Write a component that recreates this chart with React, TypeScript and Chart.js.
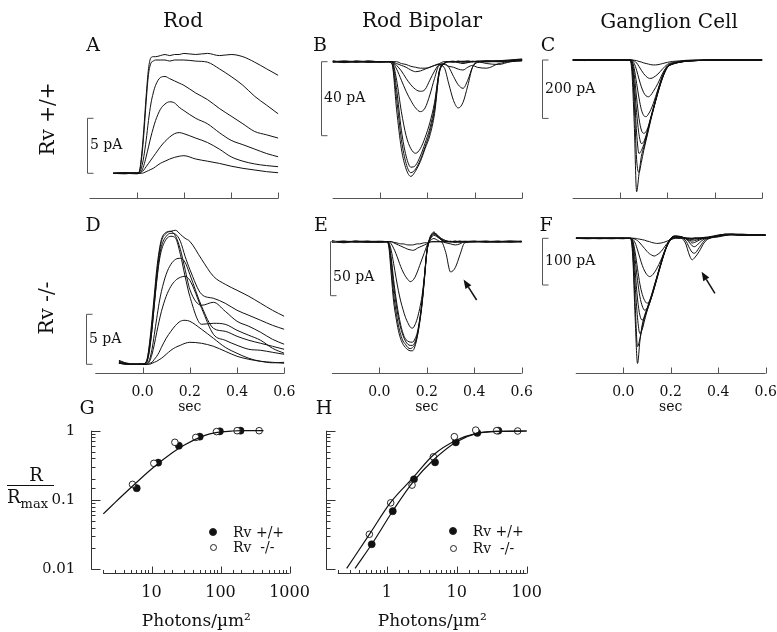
import React, { useEffect, useRef } from 'react';
import { Chart, registerables } from 'chart.js';
Chart.register(...registerables);

const W = 777;
const H = 632;
const FONT = '"DejaVu Serif", serif';

// ---------- DATA ----------
const timeTicks = [0, 0.2, 0.4, 0.6];

// Rod (A: Rv+/+, D: Rv-/-), pA, outward positive
const rodTime = [-0.1, -0.05, 0, 0.01, 0.02, 0.03, 0.04, 0.05, 0.06, 0.07, 0.08, 0.1, 0.12, 0.14, 0.16, 0.18, 0.2, 0.25, 0.3, 0.35, 0.4, 0.45, 0.5, 0.55, 0.6];
const rodWT1 = [0, 0.05, 0, 0.1, 1.5, 4, 7, 9.5, 10.5, 10.6, 10.6, 10.7, 10.8, 10.7, 10.8, 10.8, 10.9, 10.8, 10.9, 10.7, 10.8, 10.6, 10.1, 9.5, 8.9];
const rodWT2 = [0, -0.05, 0.05, 0.1, 1.2, 3.5, 6.5, 9, 10, 10.2, 10.3, 10.3, 10.3, 10.2, 10.3, 10.3, 10.3, 10.2, 10.1, 9.5, 8.8, 8.0, 7.0, 6.2, 5.4];
const rodWT3 = [0, 0, -0.05, 0.05, 0.5, 1.5, 3, 4.8, 6.3, 7.3, 8, 8.7, 8.8, 8.6, 8.4, 8.2, 8.0, 7.3, 6.7, 5.9, 5.2, 4.5, 3.8, 3.5, 3.2];
const rodWT4 = [0, 0.05, 0, 0, 0.2, 0.7, 1.5, 2.4, 3.3, 4.1, 4.8, 5.8, 6.3, 6.5, 6.4, 6.0, 5.7, 5.0, 4.5, 3.7, 3.0, 2.6, 2.2, 1.8, 1.5];
const rodWT5 = [0, 0, 0.05, 0, 0.1, 0.3, 0.6, 0.9, 1.2, 1.5, 1.8, 2.4, 2.9, 3.3, 3.6, 3.7, 3.6, 3.2, 2.8, 2.2, 1.5, 1.1, 0.85, 0.7, 0.6];
const rodWT6 = [0, 0.05, 0, 0, 0, 0.05, 0.15, 0.25, 0.35, 0.45, 0.6, 0.9, 1.1, 1.3, 1.45, 1.55, 1.6, 1.3, 1.1, 0.9, 0.65, 0.45, 0.3, 0.15, 0.05];

const rodKO1 = [0.4, 0, 0, 0.1, 0.5, 2, 4, 6.5, 9, 11, 12.3, 13.1, 13.3, 13.4, 13.0, 12.6, 12.3, 10.5, 8.8, 8.0, 7.4, 6.8, 6.1, 5.4, 4.8];
const rodKO2 = [0.3, 0.05, 0, 0.1, 0.4, 1.6, 3.5, 6, 8.5, 10.5, 11.8, 12.8, 13.1, 13.0, 12.3, 10.8, 9.5, 7.0, 6.6, 6.1, 5.4, 4.9, 4.4, 3.9, 3.5];
const rodKO3 = [0.2, 0, 0.05, 0.1, 0.6, 2.2, 4.5, 7, 9.5, 11.3, 12.5, 13.2, 13.3, 12.8, 11.5, 9.5, 7.5, 5.9, 6.2, 5.3, 4.3, 3.8, 3.2, 2.5, 2.0];
const rodKO4 = [0.2, 0, 0, 0.05, 0.3, 1.5, 3.5, 6, 8.3, 10.2, 11.4, 12.5, 12.8, 12.6, 11.0, 8.8, 6.8, 4.0, 4.1, 4.0, 3.4, 2.9, 2.4, 1.6, 1.1];
const rodKO5 = [0.1, 0, 0, 0, 0.1, 0.5, 1.5, 3, 4.6, 6.1, 7.3, 9, 10, 10.5, 10.6, 10.2, 9.0, 5.8, 3.6, 3.3, 2.8, 2.4, 2.1, 1.8, 1.5];
const rodKO6 = [0.1, 0, 0.05, 0, 0.05, 0.3, 1, 2, 3.2, 4.3, 5.3, 6.8, 7.8, 8.4, 8.7, 8.8, 8.4, 5.6, 3.0, 2.4, 1.9, 1.5, 1.4, 1.2, 1.0];
const rodKO7 = [0.1, 0, 0, 0, 0, 0.1, 0.2, 0.5, 0.8, 1.2, 1.7, 2.6, 3.3, 3.9, 4.3, 4.4, 4.3, 3.5, 2.6, 1.7, 1.1, 0.6, 0.3, 0.2, 0.1];
const rodKO8 = [0.1, 0, 0, 0, 0, 0, 0.1, 0.2, 0.3, 0.45, 0.6, 1.0, 1.4, 1.7, 1.9, 2.1, 2.2, 2.1, 1.8, 1.3, 0.8, 0.5, 0.3, 0.15, 0.2];

// Rod bipolar Rv+/+ (B), pA
const bipTime = [-0.2, -0.15, -0.1, -0.05, 0, 0.03, 0.05, 0.07, 0.09, 0.11, 0.13, 0.15, 0.17, 0.19, 0.21, 0.23, 0.25, 0.27, 0.29, 0.31, 0.33, 0.35, 0.37, 0.39, 0.41, 0.45, 0.5, 0.55, 0.6];
const bipWT1 = [0.5, -0.5, 0.3, -0.3, 0, 0, -1, -26, -47, -58, -62, -59, -54, -47, -40, -28, -6, -1, 0, 0.3, -0.3, 0, 0.5, 0, 0.3, 0, 0.5, 1, 1.5];
const bipWT2 = [-0.3, 0.4, -0.2, 0.3, 0, 0, -1, -20, -42, -55, -60, -58, -53, -46, -38, -26, -6, -1, 0, -0.3, 0.3, 0, -0.3, 0.3, 0, 0.5, 0, 0.8, 1];
const bipWT3 = [0, -0.3, 0.3, 0, -0.3, 0, 0, -15, -37, -51, -57, -56, -51, -44, -36, -24, -5, -1, 0, 0, 0.3, -0.3, 0, 0, 0.3, 0.5, 0.3, 0.5, 1.2];
const bipWT4 = [0.3, 0, -0.3, 0.3, 0, 0, 0, -10, -27, -40, -47, -49.5, -47, -41, -33, -22, -5, -1, 0, 0, 0, 0.3, 0, 0, 0, 0.3, 0.5, 0.5, 1];
const bipWT5 = [0, 0.3, 0, -0.3, 0, 0, 0, -4, -10, -16, -21, -25, -27, -25, -18, -9, -2, -3, -12, -21, -25, -22, -13, -3, 0, 0, 0.3, 0.5, 1];
const bipWT6 = [0, 0, 0.3, 0, 0, 0, 0, -2, -5, -9, -12.5, -15, -16, -15, -10, -5, -1.5, -1, -3, -8, -12.5, -14.4, -10, -3, -0.5, 0, 0, 0.5, 0.8];
const bipWT7 = [0, 0, 0, 0.3, 0, 0, 0, -1, -2, -3, -4.5, -5.4, -5, -4, -3, -2, -1.5, -1.5, -2.5, -3, -4, -4.5, -3, -2, -3, -3.5, -1, 0, 0.5];
const bipWT8 = [0, 0, 0, 0, 0, 0, 0, 0, -1, -1.5, -2.5, -3, -3.5, -3.5, -3, -2, -1, 0, 0, 0, -0.5, -1, -0.5, 0, 0, -1, -1.5, 0, 0.5];

// Ganglion cell Rv+/+ (C), pA
const ganTime = [-0.2, -0.15, -0.1, -0.05, 0, 0.02, 0.04, 0.05, 0.06, 0.07, 0.08, 0.09, 0.1, 0.11, 0.12, 0.13, 0.14, 0.16, 0.18, 0.2, 0.22, 0.25, 0.28, 0.32, 0.36, 0.4, 0.45, 0.5, 0.55, 0.6];
const ganWT1 = [2, -2, 1, -1, 0, 0, 0, -40, -220, -451, -390, -330, -300, -270, -235, -200, -170, -110, -60, -25, -14, -8, -4, -2, -1, 0, 1, 0, 1, 0];
const ganWT2 = [-1, 1, 0, 1, -1, 0, 0, -20, -150, -340, -385, -350, -310, -275, -240, -205, -172, -112, -60, -25, -15, -8, -4, -2, -1, 0, 0, 1, 0, 1];
const ganWT3 = [0, 1, -1, 0, 1, 0, 0, -15, -110, -250, -320, -310, -290, -262, -232, -200, -170, -110, -58, -24, -14, -8, -4, -2, -1, 0, 0, 0, 1, 0];
const ganWT4 = [1, 0, 0, -1, 0, 0, 0, -10, -80, -180, -255, -286, -280, -258, -230, -198, -168, -108, -56, -23, -14, -7, -4, -2, -1, 0, 1, 0, 0, 1];
const ganWT5 = [0, -1, 1, 0, 0, 0, 0, -5, -50, -130, -200, -240, -251, -245, -225, -195, -165, -105, -55, -22, -13, -7, -4, -2, -1, 0, 0, 1, 0, 0];
const ganWT6 = [-1, 0, 0, 1, 0, 0, 0, -3, -30, -80, -130, -170, -190, -194, -185, -170, -150, -100, -52, -22, -13, -7, -3, -2, -1, 0, 0, 0, 1, 0];
const ganWT7 = [0, 1, 0, 0, -1, 0, 0, -1, -12, -35, -65, -92, -112, -123, -126, -120, -108, -80, -45, -20, -12, -6, -3, -1, 0, 0, 1, 0, 0, 0];
const ganWT8 = [1, 0, -1, 0, 0, 0, 0, 0, -3, -10, -22, -35, -47, -56, -62, -63, -60, -48, -30, -15, -9, -5, -2, -1, 0, 0, 0, 0, 1, 0];
const ganWT9 = [0, 0, 1, 0, 0, 0, 0, 0, -1, -2, -5, -7, -10, -12, -14, -16, -17, -16, -12, -8, -5, -3, -1, 0, 0, 0, 0, 1, 0, 0];

// Rod bipolar Rv-/- (E), pA
const bipKOTime = [-0.2, -0.15, -0.1, -0.05, 0, 0.03, 0.04, 0.05, 0.06, 0.07, 0.08, 0.09, 0.1, 0.11, 0.12, 0.13, 0.14, 0.15, 0.16, 0.17, 0.18, 0.19, 0.2, 0.21, 0.22, 0.23, 0.24, 0.26, 0.28, 0.3, 0.32, 0.34, 0.36, 0.4, 0.45, 0.5, 0.55, 0.6];
const bipKO1 = [1, -1, 0.5, -0.5, 0, 0, -5, -30, -55, -70, -82, -90, -95, -98, -100, -101, -101, -97, -88, -75, -58, -35, -10, 2, 7, 9, 7, 3, 1, 0, 0.5, -0.5, 0, 0.5, -0.5, 0, 0.5, 0];
const bipKO2 = [-0.5, 0.5, 0, 0.5, -0.5, 0, -3, -24, -48, -64, -77, -86, -92, -95, -98, -99, -98, -95, -87, -74, -57, -34, -10, 1, 6, 8, 7, 3, 1, 0, 0, 0.5, -0.5, 0, 0.5, -0.5, 0, 0.5];
const bipKO3 = [0, 0.5, -0.5, 0, 0.5, 0, -2, -18, -40, -57, -70, -80, -87, -92, -95, -96, -96, -93, -86, -73, -56, -33, -9, 1, 6, 8, 6, 2, 0, 0.5, -0.5, 0, 0.5, 0, 0, 0.5, -0.5, 0];
const bipKO4 = [0.5, 0, 0, -0.5, 0, 0, -2, -15, -35, -52, -66, -77, -85, -90, -92, -93, -93, -90, -84, -72, -55, -32, -9, 1, 5, 7, 6, 2, 0, 0, 0.5, 0, 0, 0.5, 0, 0, 0.5, 0];
const bipKO5 = [0, -0.5, 0.5, 0, 0, 0, -1, -8, -20, -33, -45, -55, -63, -70, -75, -79, -80, -77, -71, -62, -50, -32, -10, 0, 4, 6, 5, 2, 0, 0, 0, 0.5, 0, 0, 0.5, 0, 0, 0.5];
const bipKO6 = [0, 0, 0.5, 0, -0.5, 0, 0, -2, -6, -11, -17, -23, -28, -32, -35, -37, -36, -33, -28, -22, -16, -10, -4, 0, 2, 3, 2, 0, 0, 0, -0.5, 0, 0, 0, 0, 0.5, 0, 0];
const bipKO7 = [0, 0, 0, 0.5, 0, 0, 0, 0, -1, -2, -3, -4, -5, -6, -7, -7.5, -8, -7.5, -6, -5, -4, -3, -2, -1, 0, 0, 0, 0, -1, -2, -3, -2, 0, 0, 0, 0, 0.5, 0];
const bipKO8 = [0, 0, 0, 0, 0, 0, 0, 0, -0.5, -1, -1.5, -2, -2, -2.5, -3, -3, -3, -2.5, -2, -2, -1.5, -1, -1, -0.5, 0, 0, 0, 0, -10, -28, -24, -12, -1, 0, 0, 0, 0, 0];

// Ganglion cell Rv-/- (F), pA
const ganKOTime = [-0.2, -0.15, -0.1, -0.05, 0, 0.02, 0.03, 0.04, 0.05, 0.06, 0.07, 0.08, 0.09, 0.1, 0.11, 0.12, 0.13, 0.14, 0.16, 0.18, 0.2, 0.22, 0.24, 0.26, 0.28, 0.29, 0.3, 0.32, 0.34, 0.36, 0.4, 0.43, 0.46, 0.5, 0.55, 0.6];
const ganKO1 = [0, 0, 0, 0, 0, 0, 0, -40, -170, -268, -220, -185, -165, -150, -135, -120, -102, -85, -50, -20, 0, 5, 4, 1, 0, 0, 0, 0, 1, 2, 6, 9, 8, 7, 7, 6];
const ganKO2 = [0, 1, 0, -1, 0, 0, 0, -30, -140, -232, -215, -190, -168, -152, -137, -121, -104, -86, -51, -20, 0, 5, 3, 1, 0, 0, 1, 0, 2, 3, 7, 8, 9, 6, 8, 7];
const ganKO3 = [1, 0, 0, 0, -1, 0, 0, -20, -100, -170, -204, -195, -175, -156, -140, -123, -105, -87, -52, -21, 0, 4, 4, 0, 0, -1, 0, 1, 1, 2, 5, 8, 9, 8, 6, 7];
const ganKO4 = [0, 0, 1, 0, 0, 0, 0, -12, -70, -130, -165, -175, -168, -155, -140, -124, -106, -88, -52, -21, -1, 4, 3, 0, -2, -3, -2, 0, 1, 2, 6, 7, 8, 9, 7, 6];
const ganKO5 = [0, -1, 0, 0, 1, 0, 0, -8, -45, -90, -125, -145, -154, -150, -140, -125, -107, -89, -53, -22, -2, 3, 3, 0, -4, -6, -5, -2, 0, 2, 5, 8, 7, 8, 7, 7];
const ganKO6 = [0, 0, 0, 1, 0, 0, 0, -5, -30, -65, -98, -120, -133, -139, -135, -124, -108, -90, -54, -22, -2, 3, 2, 0, -6, -10, -9, -4, 0, 1, 6, 9, 8, 6, 7, 8];
const ganKO7 = [1, 0, 0, 0, 0, 0, 0, -2, -10, -25, -42, -58, -70, -78, -82, -80, -74, -66, -45, -20, -3, 2, 2, 0, -10, -16, -18, -10, -2, 0, 5, 7, 9, 7, 6, 7];
const ganKO8 = [0, 0, -1, 0, 0, 0, 0, 0, -2, -5, -10, -16, -22, -28, -33, -36, -38, -36, -28, -14, -3, 1, 0, -3, -22, -30, -32, -20, -6, 0, 4, 7, 8, 7, 8, 6];
const ganKO9 = [0, 0, 0, 0, 0, 0, 0, 0, 0, -1, -2, -3, -4, -6, -7, -9, -10, -11, -10, -7, -3, 0, 0, -8, -38, -46, -42, -28, -10, -1, 3, 6, 8, 7, 7, 6];

// Arrows (tail t, tail pA, head t, head pA)
const arrowE = [0.41, -54, 0.355, -35];
const arrowF = [0.386, -118, 0.33, -71.5];

// Intensity-response (G: rod, H: rod bipolar)
const gWTx = [6.1, 12.5, 24.9, 50, 98, 195];
const gWTy = [0.148, 0.346, 0.608, 0.82, 0.98, 1.0];
const gKOx = [5.3, 10.8, 21.8, 43.8, 87.5, 174, 363];
const gKOy = [0.168, 0.338, 0.68, 0.8, 0.97, 1.0, 1.0];
const gFitX = [2, 3, 5, 10, 20, 30, 50, 70, 100, 150, 200, 420];
const gFitY = [0.063, 0.093, 0.15, 0.28, 0.48, 0.62, 0.8, 0.9, 0.96, 0.99, 1.0, 1.0];

const hWTx = [0.61, 1.22, 2.45, 4.9, 9.7, 19.7, 39.4];
const hWTy = [0.023, 0.069, 0.199, 0.35, 0.68, 0.93, 1.0];
const hKOx = [0.565, 1.14, 2.3, 4.64, 9.25, 18.7, 37.2, 74.3];
const hKOy = [0.032, 0.091, 0.164, 0.42, 0.82, 1.02, 1.0, 0.99];
const hFitKOx = [0.268, 0.578, 1.11, 2.4, 4.64, 10, 19.3, 40, 100];
const hFitKOy = [0.0103, 0.033, 0.0895, 0.212, 0.446, 0.734, 0.916, 0.98, 0.99];
const hFitWTx = [0.353, 0.645, 1.245, 2.4, 4.64, 10, 19.3, 40, 100];
const hFitWTy = [0.0103, 0.025, 0.0718, 0.184, 0.378, 0.695, 0.916, 0.98, 0.99];

// ---------- PLUGINS ----------
const AXIS_COLOR = '#555';

const traceDecor = {
  id: 'traceDecor',
  afterDraw(chart: any, _args: any, o: any) {
    const { ctx, chartArea: a, scales } = chart;
    const x = scales.x, y = scales.y;
    ctx.save();
    ctx.strokeStyle = AXIS_COLOR;
    ctx.lineWidth = 1;
    ctx.beginPath();
    const ay = Math.round(a.bottom) - 0.5;
    ctx.moveTo(a.left, ay);
    ctx.lineTo(a.right, ay);
    for (const t of o.ticks) {
      const px = Math.round(x.getPixelForValue(t)) + 0.5;
      ctx.moveTo(px, ay);
      ctx.lineTo(px, ay - 6);
    }
    ctx.stroke();
    // scale bar
    const bx = Math.round(x.getPixelForValue(o.barT)) + 0.5;
    const y0 = y.getPixelForValue(0);
    const y1 = y.getPixelForValue(o.barV);
    ctx.beginPath();
    ctx.moveTo(bx + 6, y0);
    ctx.lineTo(bx, y0);
    ctx.lineTo(bx, y1);
    ctx.lineTo(bx + 6, y1);
    ctx.stroke();
    ctx.fillStyle = '#111';
    ctx.font = '14px ' + FONT;
    ctx.textBaseline = 'middle';
    ctx.textAlign = 'left';
    ctx.fillText(o.barLabel, bx + 2.5, (y0 + y1) / 2 + (o.labelDy || 0));
    // arrow
    if (o.arrow) {
      const [t1, v1, t2, v2] = o.arrow;
      const x1 = x.getPixelForValue(t1), yy1 = y.getPixelForValue(v1);
      const x2 = x.getPixelForValue(t2), yy2 = y.getPixelForValue(v2);
      const ang = Math.atan2(yy2 - yy1, x2 - x1);
      const L = 9, hw = 3.5;
      const bxh = x2 - L * Math.cos(ang), byh = yy2 - L * Math.sin(ang);
      ctx.strokeStyle = '#111';
      ctx.lineWidth = 1.5;
      ctx.beginPath();
      ctx.moveTo(x1, yy1);
      ctx.lineTo(bxh, byh);
      ctx.stroke();
      ctx.beginPath();
      ctx.moveTo(x2, yy2);
      ctx.lineTo(bxh + hw * Math.sin(ang), byh - hw * Math.cos(ang));
      ctx.lineTo(bxh - hw * Math.sin(ang), byh + hw * Math.cos(ang));
      ctx.closePath();
      ctx.fill();
    }
    ctx.restore();
  },
};

const isMajor = (v: number) => {
  const l = Math.log10(v);
  return Math.abs(l - Math.round(l)) < 1e-6;
};

const logDecor = {
  id: 'logDecor',
  afterDraw(chart: any) {
    const { ctx, chartArea: a, scales } = chart;
    const x = scales.x, y = scales.y;
    ctx.save();
    ctx.strokeStyle = '#333';
    ctx.lineWidth = 1;
    ctx.beginPath();
    const yx = Math.round(a.left - 12) + 0.5;
    ctx.moveTo(yx, y.getPixelForValue(1));
    ctx.lineTo(yx, y.getPixelForValue(0.01) + 0.5);
    for (const t of y.ticks) {
      const py = Math.round(y.getPixelForValue(t.value)) + 0.5;
      ctx.moveTo(yx, py);
      ctx.lineTo(yx + (isMajor(t.value) ? 9 : 4), py);
    }
    const xy = Math.round(a.bottom + 3.5) + 0.5;
    ctx.moveTo(a.left, xy);
    ctx.lineTo(a.right, xy);
    for (const t of x.ticks) {
      const px = Math.round(x.getPixelForValue(t.value)) + 0.5;
      ctx.moveTo(px, xy);
      ctx.lineTo(px, xy - (isMajor(t.value) ? 7 : 3.5));
    }
    ctx.stroke();
    ctx.restore();
  },
};

// ---------- CONFIG BUILDERS ----------
type Geo = { left: number; right: number; top: number; bottom: number; base: number; k: number };

function traceChart(time: number[], traces: number[][], g: Geo, deco: any, showAxis: boolean) {
  const xh = showAxis ? 42 : 0;
  return {
    type: 'line',
    data: {
      datasets: traces.map((v) => ({
        data: time.map((t, i) => ({ x: t, y: v[i] })),
        borderColor: '#111',
        borderWidth: 1,
        pointRadius: 0,
        fill: false,
        cubicInterpolationMode: 'monotone',
      })),
    },
    options: {
      responsive: false,
      animation: false,
      devicePixelRatio: 1,
      events: [],
      layout: { padding: { left: g.left, right: W - g.right, top: g.top, bottom: H - g.bottom - xh } },
      plugins: { legend: { display: false }, tooltip: { enabled: false }, traceDecor: { ticks: timeTicks, ...deco } },
      scales: {
        x: {
          type: 'linear',
          min: -0.2,
          max: 0.6,
          display: showAxis,
          grid: { display: false },
          border: { display: false },
          afterBuildTicks: (s: any) => {
            s.ticks = timeTicks.map((v) => ({ value: v }));
          },
          afterFit: (s: any) => {
            s.height = xh;
            s.paddingLeft = 0;
            s.paddingRight = 0;
          },
          ticks: {
            autoSkip: false,
            maxRotation: 0,
            padding: 2,
            color: '#111',
            font: { family: FONT, size: 14 },
            callback: (v: any) => Number(v).toFixed(1),
          },
          title: { display: true, text: 'sec', color: '#111', font: { family: FONT, size: 14 }, padding: { top: 0, bottom: 0 } },
        },
        y: { type: 'linear', display: false, min: -(g.bottom - g.base) / g.k, max: (g.base - g.top) / g.k },
      },
    },
    plugins: [traceDecor],
  };
}

const LOG_TOP = 430.7;
const LOG_BOTTOM = 569.3;

function logChart(opts: {
  xMin: number; xMax: number; left: number; right: number; showY: boolean;
  fits: [number[], number[]][]; wt: [number[], number[]]; ko: [number[], number[]];
}) {
  const yw = opts.showY ? 60 : 0;
  const pts = (xs: number[], ys: number[]) => xs.map((v, i) => ({ x: v, y: ys[i] }));
  return {
    type: 'line',
    data: {
      datasets: [
        ...opts.fits.map(([xs, ys]) => ({
          data: pts(xs, ys), borderColor: '#111', borderWidth: 1.2, pointRadius: 0, fill: false,
          cubicInterpolationMode: 'monotone', clip: false,
        })),
        {
          data: pts(opts.ko[0], opts.ko[1]), showLine: false, pointRadius: 3.3, pointBackgroundColor: '#fff',
          pointBorderColor: '#111', pointBorderWidth: 0.9, clip: false,
        },
        {
          data: pts(opts.wt[0], opts.wt[1]), showLine: false, pointRadius: 3.6, pointBackgroundColor: '#111',
          pointBorderColor: '#111', pointBorderWidth: 0.5, clip: false,
        },
      ],
    },
    options: {
      responsive: false,
      animation: false,
      devicePixelRatio: 1,
      events: [],
      layout: { padding: { left: opts.left - yw, right: W - opts.right, top: LOG_TOP, bottom: 0 } },
      plugins: { legend: { display: false }, tooltip: { enabled: false } },
      scales: {
        x: {
          type: 'logarithmic',
          min: opts.xMin,
          max: opts.xMax,
          grid: { display: false },
          border: { display: false },
          afterFit: (s: any) => {
            s.height = H - LOG_BOTTOM;
            s.paddingLeft = 0;
            s.paddingRight = 0;
          },
          ticks: {
            autoSkip: false,
            maxRotation: 0,
            padding: 6,
            color: '#111',
            font: { family: FONT, size: 16 },
            callback: (v: any) => (isMajor(Number(v)) ? String(Number(v)) : ''),
          },
          title: { display: true, text: 'Photons/\u00b5m\u00b2', color: '#111', font: { family: FONT, size: 17 }, padding: { top: 0, bottom: 0 } },
        },
        y: {
          type: 'logarithmic',
          min: 0.01,
          max: 1,
          position: 'left',
          grid: { display: false },
          border: { display: false },
          afterFit: (s: any) => {
            s.width = yw;
          },
          ticks: {
            display: opts.showY,
            autoSkip: false,
            padding: 20,
            color: '#111',
            font: { family: FONT, size: 15 },
            callback: (v: any) => (isMajor(Number(v)) ? String(Number(v)) : ''),
          },
        },
      },
    },
    plugins: [logDecor],
  };
}

const configs: (() => any)[] = [
  () => traceChart(rodTime, [rodWT1, rodWT2, rodWT3, rodWT4, rodWT5, rodWT6],
    { left: 89.5, right: 278.3, top: 40, bottom: 199, base: 173.3, k: 11 },
    { barT: -0.212, barV: 5, barLabel: '5 pA' }, false),
  () => traceChart(bipTime, [bipWT1, bipWT2, bipWT3, bipWT4, bipWT5, bipWT6, bipWT7, bipWT8],
    { left: 332.6, right: 522.3, top: 45, bottom: 199, base: 61.7, k: 1.85 },
    { barT: -0.25, barV: -40, barLabel: '40 pA' }, false),
  () => traceChart(ganTime, [ganWT1, ganWT2, ganWT3, ganWT4, ganWT5, ganWT6, ganWT7, ganWT8, ganWT9],
    { left: 572.6, right: 762.3, top: 45, bottom: 199, base: 60, k: 0.292 },
    { barT: -0.33, barV: -200, barLabel: '200 pA' }, false),
  () => traceChart(rodTime, [rodKO1, rodKO2, rodKO3, rodKO4, rodKO5, rodKO6, rodKO7, rodKO8],
    { left: 95.3, right: 284.3, top: 210, bottom: 374, base: 364.3, k: 10 },
    { barT: -0.24, barV: 5, barLabel: '5 pA' }, true),
  () => traceChart(bipKOTime, [bipKO1, bipKO2, bipKO3, bipKO4, bipKO5, bipKO6, bipKO7, bipKO8],
    { left: 331.9, right: 521.7, top: 215, bottom: 374, base: 241.7, k: 1.08 },
    { barT: -0.21, barV: -50, barLabel: '50 pA', labelDy: 9, arrow: arrowE }, true),
  () => traceChart(ganKOTime, [ganKO1, ganKO2, ganKO3, ganKO4, ganKO5, ganKO6, ganKO7, ganKO8, ganKO9],
    { left: 575.8, right: 765.7, top: 215, bottom: 374, base: 238.3, k: 0.467 },
    { barT: -0.344, barV: -100, barLabel: '100 pA', arrow: arrowF }, true),
  () => logChart({ xMin: 2, xMax: 1000, left: 103.3, right: 289.5, showY: true,
    fits: [[gFitX, gFitY]], wt: [gWTx, gWTy], ko: [gKOx, gKOy] }),
  () => logChart({ xMin: 0.2, xMax: 100, left: 337.8, right: 526.7, showY: false,
    fits: [[hFitKOx, hFitKOy], [hFitWTx, hFitWTy]], wt: [hWTx, hWTy], ko: [hKOx, hKOy] }),
];

// ---------- COMPONENTS ----------
function ChartCanvas({ make }: { make: () => any }) {
  const ref = useRef<HTMLCanvasElement>(null);
  useEffect(() => {
    const chart = new Chart(ref.current as HTMLCanvasElement, make());
    return () => chart.destroy();
  }, [make]);
  return <canvas ref={ref} width={W} height={H} style={{ position: 'absolute', left: 0, top: 0, width: W, height: H }} />;
}

function Txt({ x, y, size, children, rotate, align }: { x: number; y: number; size: number; children: any; rotate?: number; align?: 'left' | 'center' }) {
  const tx = align === 'left' ? '0' : '-50%';
  return (
    <div
      style={{
        position: 'absolute', left: x, top: y, fontSize: size, lineHeight: 1, whiteSpace: 'pre', color: '#111',
        transform: `translate(${tx}, -50%)${rotate ? ` rotate(${rotate}deg)` : ''}`, transformOrigin: align === 'left' ? 'left center' : 'center',
      }}
    >
      {children}
    </div>
  );
}

function Dot({ x, y, filled }: { x: number; y: number; filled: boolean }) {
  const d = filled ? 8 : 7;
  return (
    <div style={{
      position: 'absolute', left: x - d / 2, top: y - d / 2, width: d, height: d, borderRadius: '50%', boxSizing: 'border-box',
      background: filled ? '#111' : '#fff', border: '1px solid #222',
    }} />
  );
}

export default function App() {
  useEffect(() => {
    document.body.style.margin = '0';
  }, []);
  return (
    <div style={{ position: 'absolute', left: 0, top: 0, width: W, height: H, background: '#fff', overflow: 'hidden', fontFamily: FONT }}>
      {configs.map((c, i) => <ChartCanvas key={i} make={c} />)}
      <Txt x={183} y={20} size={20}>Rod</Txt>
      <Txt x={422} y={20} size={20}>Rod Bipolar</Txt>
      <Txt x={669} y={21} size={20}>Ganglion Cell</Txt>
      <Txt x={93} y={44} size={19}>A</Txt>
      <Txt x={320} y={44} size={19}>B</Txt>
      <Txt x={548} y={44} size={19}>C</Txt>
      <Txt x={93} y={224} size={19}>D</Txt>
      <Txt x={321} y={224} size={19}>E</Txt>
      <Txt x={546} y={224} size={19}>F</Txt>
      <Txt x={87} y={407} size={19}>G</Txt>
      <Txt x={324} y={407} size={19}>H</Txt>
      <Txt x={47} y={119} size={20} rotate={-90}>Rv +/+</Txt>
      <Txt x={46} y={308} size={20} rotate={-90}>Rv -/-</Txt>
      <Txt x={36} y={475} size={18}>R</Txt>
      <div style={{ position: 'absolute', left: 7, top: 485, width: 47, height: 0, borderTop: '1px solid #111' }} />
      <div style={{ position: 'absolute', left: 7, top: 488, fontSize: 18, lineHeight: 1, color: '#111', whiteSpace: 'pre' }}>
        R<span style={{ fontSize: 13, position: 'relative', top: 5 }}>max</span>
      </div>
      <Dot x={213.3} y={531.7} filled />
      <Dot x={213.3} y={547.3} filled={false} />
      <Txt x={233} y={532} size={14} align="left">Rv +/+</Txt>
      <Txt x={233} y={547} size={14} align="left">{'Rv  -/-'}</Txt>
      <Dot x={453.3} y={530.7} filled />
      <Dot x={453.3} y={548.3} filled={false} />
      <Txt x={472.7} y={531} size={14} align="left">Rv +/+</Txt>
      <Txt x={472.7} y={548} size={14} align="left">{'Rv  -/-'}</Txt>
    </div>
  );
}
